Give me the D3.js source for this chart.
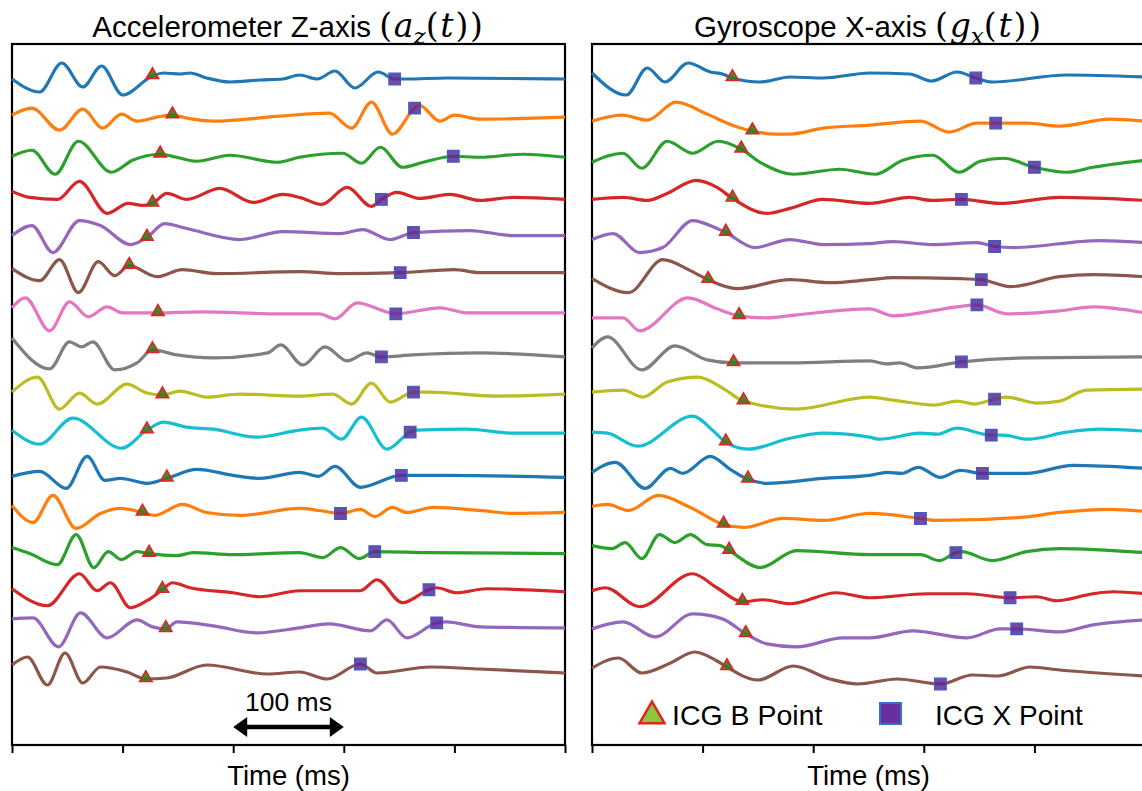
<!DOCTYPE html>
<html lang="en">
<head>
  <meta charset="UTF-8">
  <title>ICG B and X points</title>
  <style>
    body { margin: 0; background: #fff; }
    svg { display: block; font-family: "Liberation Sans", Arial, sans-serif; }
    .math { font-family: "DejaVu Serif", "Liberation Serif", serif; }
  </style>
</head>
<body>
  <svg width="1142" height="791"></svg>
  <script src="https://d3js.org/d3.v7.min.js"></script>
  <script>
    var colors = ["#1f77b4", "#ff7f0e", "#2ca02c", "#d62728", "#9467bd", "#8c564b", "#e377c2", "#7f7f7f",
                  "#bcbd22", "#17becf", "#1f77b4", "#ff7f0e", "#2ca02c", "#d62728", "#9467bd", "#8c564b"];
    var tickTimes = [0, 100, 200, 300, 400, 500];

    // accelerometer z traces: [time ms, amplitude a.u.]
    var accTraces = [
      [[0,0],[25,-13],[45,16],[64,-8],[81,13],[100,-16],[127,3],[137,6],[152,5],[161,6],[176,1],[197,-3],[224,-1],[245,0],[260,4],[276,0],[292,8],[310,-9],[331,7],[346,0],[357,0],[393,1],[500,0]],
      [[0,3],[18,10],[43,-12],[64,9],[82,-10],[99,4],[113,-3],[131,1],[145,3],[158,0],[182,-3],[242,2],[287,5],[307,-10],[325,16],[344,-16],[364,10],[368,13],[387,-3],[400,3],[423,-1],[500,1]],
      [[0,1],[18,7],[39,-17],[60,16],[90,-15],[109,-3],[134,3],[149,0],[167,-4],[197,2],[240,-5],[260,0],[299,4],[316,-6],[333,10],[353,-10],[372,-5],[399,1],[423,0],[462,3],[500,0]],
      [[0,5],[16,-1],[41,-3],[61,15],[86,-17],[105,-7],[118,-9],[127,-7],[140,3],[158,-3],[188,8],[218,-6],[245,2],[260,-1],[280,-8],[303,9],[325,-10],[334,-3],[348,4],[369,-2],[396,2],[423,-4],[453,-1],[500,-3]],
      [[0,0],[18,10],[37,-17],[61,15],[80,10],[107,-9],[122,-2],[138,12],[158,7],[206,-4],[245,4],[297,2],[317,6],[342,-4],[363,3],[414,5],[453,0],[500,0]],
      [[0,6],[25,-6],[43,15],[60,-18],[78,13],[93,-1],[106,9],[131,-2],[154,5],[185,1],[260,3],[297,1],[351,2],[400,5],[423,2],[500,2]],
      [[0,6],[12,16],[34,-17],[52,12],[69,-3],[86,7],[100,1],[132,1],[170,2],[242,0],[278,0],[292,-5],[312,11],[347,0],[387,6],[411,1],[500,1]],
      [[0,15],[34,-16],[52,11],[63,6],[73,11],[93,-17],[113,-10],[127,3],[149,-2],[182,-5],[231,0],[243,8],[263,-12],[283,6],[303,-8],[321,0],[334,-4],[362,-2],[423,0],[500,-4]],
      [[0,0],[23,15],[43,-17],[61,-1],[77,-12],[104,8],[122,-1],[136,-3],[152,1],[176,-5],[206,-2],[260,-4],[290,-2],[307,-12],[325,9],[342,-10],[363,0],[378,0],[438,-4],[500,-2]],
      [[0,1],[25,-13],[55,13],[99,-17],[122,1],[137,9],[158,4],[182,2],[221,-6],[260,1],[281,3],[298,-8],[316,14],[339,-18],[360,-1],[366,1],[411,2],[453,-2],[500,-2]],
      [[0,-6],[25,-1],[49,-18],[68,14],[84,-10],[98,-8],[122,-13],[140,-8],[167,1],[200,-5],[224,-8],[260,-2],[277,-6],[292,4],[315,-17],[352,-5],[393,-5],[500,-7]],
      [[0,4],[19,-13],[37,14],[58,-19],[80,-4],[98,1],[118,-3],[129,-6],[154,5],[176,-3],[206,-6],[260,1],[278,-1],[297,-4],[315,0],[328,-7],[344,2],[357,-3],[381,2],[423,-1],[453,-4],[500,-3]],
      [[0,1],[16,-5],[41,-16],[58,14],[74,-19],[87,-3],[99,-11],[113,-3],[124,-5],[149,-7],[164,-4],[200,-6],[260,-4],[281,-9],[297,1],[314,-10],[328,-3],[375,-4],[500,-5]],
      [[0,-1],[32,-18],[61,14],[77,-3],[89,5],[107,-20],[122,-13],[136,-2],[145,5],[161,0],[200,-5],[224,-9],[260,-3],[315,-3],[330,8],[353,-15],[377,-2],[384,0],[402,-5],[429,-1],[500,-4]],
      [[0,8],[19,9],[42,-20],[62,14],[86,-11],[113,7],[127,0],[139,-2],[149,5],[182,1],[221,-6],[260,-1],[287,3],[324,-4],[339,7],[357,-11],[384,4],[393,5],[423,0],[500,-1]],
      [[0,1],[14,9],[32,-19],[48,13],[64,-17],[80,-1],[104,-6],[121,-13],[140,-12],[176,1],[231,-8],[260,-6],[285,-13],[315,2],[330,-7],[378,-1],[423,-3],[500,-7]]
    ];
    var accB = [[127,3],[145,3],[134,3],[127,-7],[122,-2],[106,9],[132,1],[127,3],[136,-3],[122,1],[140,-8],[118,-3],[124,-5],[136,-2],[139,-2],[121,-13]];
    var accX = [[346,0],[364,10],[399,1],[334,-3],[363,3],[351,2],[347,0],[334,-4],[363,0],[360,-1],[352,-5],[297,-4],[328,-3],[377,-2],[384,4],[315,2]];

    // gyroscope x traces
    var gyrTraces = [
      [[0,6],[31,-16],[50,11],[66,-3],[87,16],[107,7],[118,5],[127,1],[152,-3],[179,2],[209,1],[251,6],[287,5],[307,-2],[330,7],[347,1],[362,-3],[429,4],[500,2]],
      [[0,-3],[27,3],[50,-2],[76,16],[104,4],[127,-7],[145,-13],[167,-16],[179,-16],[209,-10],[251,-7],[297,-3],[323,-14],[348,-5],[365,-5],[393,-5],[423,-8],[468,-1],[500,-3]],
      [[0,-5],[28,4],[45,-11],[68,16],[91,4],[114,16],[135,8],[152,-5],[182,-17],[224,-12],[256,-17],[281,-3],[308,2],[332,-15],[351,-4],[372,-1],[400,-10],[429,-15],[453,-10],[500,-3]],
      [[0,-3],[28,-1],[50,-4],[68,3],[94,16],[113,9],[127,-2],[158,-17],[179,-12],[209,-3],[251,-7],[287,-1],[307,-4],[334,-3],[369,-7],[423,-1],[500,-4]],
      [[0,-4],[19,2],[43,-17],[64,-12],[91,15],[113,7],[121,3],[147,-12],[179,-4],[209,-9],[251,-8],[272,-6],[308,-9],[348,-7],[364,-11],[381,-12],[459,-5],[500,-7]],
      [[0,-4],[33,-18],[64,15],[89,4],[105,-5],[131,-14],[179,-5],[215,-8],[251,-5],[272,-3],[333,-4],[352,-5],[378,-12],[423,-2],[453,0],[500,-2]],
      [[0,-4],[28,-4],[43,-17],[87,16],[113,5],[133,-2],[158,-4],[185,-1],[251,5],[272,-2],[330,7],[348,9],[375,0],[423,3],[453,7],[500,1]],
      [[0,5],[14,16],[45,-17],[75,7],[104,-7],[128,-10],[179,-10],[251,-8],[267,-11],[278,-10],[295,-15],[334,-9],[393,-5],[500,-4]],
      [[0,0],[28,2],[46,-5],[68,10],[96,15],[118,4],[137,-9],[185,-17],[251,-5],[272,-8],[310,-13],[330,-9],[346,-12],[364,-7],[375,-5],[402,-11],[423,-9],[447,2],[500,3]],
      [[0,-1],[14,-2],[41,-15],[91,15],[109,1],[121,-11],[141,-18],[179,-7],[209,-2],[251,-6],[260,-8],[297,-2],[312,-3],[330,3],[361,-4],[372,-4],[394,-8],[429,-1],[459,2],[500,0]],
      [[0,-2],[21,8],[48,-18],[71,2],[82,-3],[107,14],[125,1],[141,-9],[158,-13],[209,-8],[251,-5],[267,-2],[280,-3],[295,3],[315,-7],[333,0],[353,-3],[393,-3],[435,5],[500,2]],
      [[0,3],[14,5],[33,-1],[60,14],[89,2],[119,-15],[137,-18],[173,-9],[209,-11],[251,-4],[297,-9],[312,-11],[387,-8],[423,-3],[468,0],[500,-2]],
      [[0,3],[18,0],[30,6],[45,-10],[61,14],[75,6],[89,14],[104,4],[116,3],[124,-2],[152,-19],[185,-2],[251,-6],[297,-6],[314,-12],[329,-4],[334,-3],[362,-12],[393,-3],[423,0],[500,-4]],
      [[0,-3],[12,0],[43,-19],[91,14],[113,0],[136,-14],[155,-12],[179,-16],[221,-5],[251,-10],[303,-6],[339,-6],[378,-10],[402,-9],[420,-13],[453,-6],[471,-4],[500,-6]],
      [[0,-2],[28,5],[57,-10],[91,13],[118,8],[139,-7],[158,-17],[185,-20],[227,-11],[251,-11],[290,-4],[339,-11],[369,-2],[384,-2],[423,-5],[453,2],[500,7]],
      [[0,-2],[24,8],[45,-7],[71,3],[93,14],[113,5],[122,-1],[150,-14],[182,0],[215,-13],[240,-18],[276,-13],[315,-18],[344,-9],[367,-10],[396,-1],[423,-4],[500,-10]]
    ];
    var gyrB = [[127,1],[145,-13],[135,8],[127,-2],[121,3],[105,-5],[133,-2],[128,-10],[137,-9],[121,-11],[141,-9],[119,-15],[124,-2],[136,-14],[139,-7],[122,-1]];
    var gyrX = [[347,1],[365,-5],[400,-10],[334,-3],[364,-11],[352,-5],[348,9],[334,-9],[364,-7],[361,-4],[353,-3],[297,-9],[329,-4],[378,-10],[384,-2],[315,-18]];

    var svg = d3.select("svg");
    var plotTop = 44, plotBottom = 745;
    var spacing = 587 / 15;
    var y = d3.scaleLinear().domain([0, -587]).range([79, 666]);

    var panels = [
      {left: 12, traces: accTraces, b: accB, xp: accX, name: "Accelerometer Z-axis ", sym: "a", sub: "z"},
      {left: 592, traces: gyrTraces, b: gyrB, xp: gyrX, name: "Gyroscope X-axis ", sym: "g", sub: "x"}
    ];

    var tri = d3.symbol().type(d3.symbolTriangle).size(66);
    var sq = d3.symbol().type(d3.symbolSquare).size(135);

    panels.forEach(function(p) {
      var x = d3.scaleLinear().domain([0, 500]).range([p.left, p.left + 553]);
      var g = svg.append("g");

      g.append("rect")
        .attr("x", x(0)).attr("y", plotTop)
        .attr("width", x(500) - x(0)).attr("height", plotBottom - plotTop)
        .attr("fill", "none").attr("stroke", "#000").attr("stroke-width", 2.2);

      var axis = g.append("g")
        .attr("transform", "translate(0," + plotBottom + ")")
        .call(d3.axisBottom(x).tickValues(tickTimes).tickSize(8).tickFormat(""));
      axis.select(".domain").remove();
      axis.selectAll("line").attr("stroke", "#000").attr("stroke-width", 2);

      g.append("text")
        .attr("x", (x(0) + x(500)) / 2).attr("y", 785)
        .attr("text-anchor", "middle").attr("font-size", 27.5)
        .text("Time (ms)");

      // title: plain name + math part in serif
      var title = g.append("text")
        .attr("x", (x(0) + x(500)) / 2).attr("y", 37)
        .attr("text-anchor", "middle").attr("font-size", 29.5);
      title.append("tspan").text(p.name);
      title.append("tspan").attr("class", "math").attr("font-size", 33).attr("letter-spacing", 1.8).text("(");
      title.append("tspan").attr("class", "math").attr("font-size", 33).attr("font-style", "italic").text(p.sym);
      title.append("tspan").attr("class", "math").attr("font-style", "italic")
        .attr("font-size", 23).attr("dy", 7).text(p.sub);
      title.append("tspan").attr("class", "math").attr("font-size", 33).attr("dy", -7)
        .attr("letter-spacing", 1.8).text("(");
      title.append("tspan").attr("class", "math").attr("font-size", 33).attr("font-style", "italic")
        .attr("letter-spacing", 1.8).text("t");
      title.append("tspan").attr("class", "math").attr("font-size", 33).attr("letter-spacing", 1.8).text("))");

      p.traces.forEach(function(tr, k) {
        var line = d3.line()
          .x(d => x(d[0]))
          .y(d => y(d[1] - k * spacing))
          .curve(d3.curveMonotoneX);
        g.append("path")
          .datum(tr)
          .attr("d", line)
          .attr("fill", "none")
          .attr("stroke", colors[k])
          .attr("stroke-width", 3.2);
      });

      g.selectAll(".bpt")
        .data(p.b)
        .enter()
        .append("path")
          .attr("class", "bpt")
          .attr("d", tri)
          .attr("transform", (d, k) => "translate(" + x(d[0]) + "," + (y(d[1] - k * spacing) - 1) + ")")
          .attr("fill", "#2f7d22")
          .attr("fill-opacity", 0.9)
          .attr("stroke", "#e3231f")
          .attr("stroke-width", 1.6);

      g.selectAll(".xpt")
        .data(p.xp)
        .enter()
        .append("path")
          .attr("class", "xpt")
          .attr("d", sq)
          .attr("transform", (d, k) => "translate(" + x(d[0]) + "," + y(d[1] - k * spacing) + ")")
          .attr("fill", "#5b2a96")
          .attr("fill-opacity", 0.85)
          .attr("stroke", "#3d5cc4")
          .attr("stroke-width", 1.2);

      p.x = x;
    });

    // 100 ms scale bar in the left panel
    var xl = panels[0].x;
    var ay = 727, x1 = xl(200), x2 = xl(300);
    svg.append("line")
      .attr("x1", x1 + 10).attr("x2", x2 - 10)
      .attr("y1", ay).attr("y2", ay)
      .attr("stroke", "#000").attr("stroke-width", 4.5);
    svg.append("path")
      .attr("d", "M" + x1 + "," + ay + "l14,-10v20z M" + x2 + "," + ay + "l-14,-10v20z")
      .attr("fill", "#000");
    svg.append("text")
      .attr("x", (x1 + x2) / 2).attr("y", 711)
      .attr("text-anchor", "middle").attr("font-size", 26.5)
      .text("100 ms");

    // legend in the right panel
    var leg = svg.append("g");
    leg.append("path")
      .attr("d", d3.symbol().type(d3.symbolTriangle).size(270))
      .attr("transform", "translate(652,716)")
      .attr("fill", "#8cc63f").attr("stroke", "#e3231f").attr("stroke-width", 2.5);
    leg.append("text").attr("x", 672).attr("y", 725).attr("font-size", 28.5).text("ICG B Point");
    leg.append("rect")
      .attr("x", 880).attr("y", 703).attr("width", 21).attr("height", 21)
      .attr("fill", "#6a2ea0").attr("stroke", "#2e75c6").attr("stroke-width", 2);
    leg.append("text").attr("x", 935).attr("y", 725).attr("font-size", 28).text("ICG X Point");
  </script>
</body>
</html>
